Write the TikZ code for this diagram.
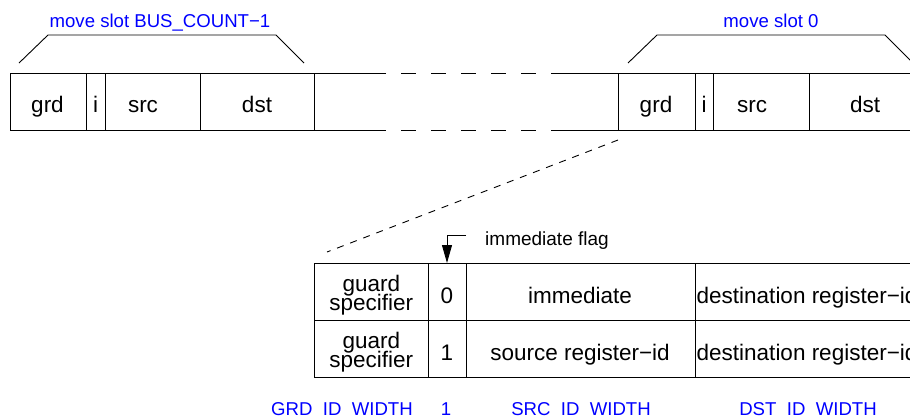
\documentclass[tikz,border=0pt]{standalone}
\usepackage{fontspec}
\setmainfont{Liberation Sans}
\usetikzlibrary{arrows.meta}
\begin{document}
\begin{tikzpicture}[x=1pt,y=-1pt,
  ln/.style={line width=0.9pt,black},
  gapdash/.style={line width=0.9pt,black,dash pattern=on 15pt off 15pt,dash phase=15pt},
  zoomdash/.style={line width=0.9pt,black,dash pattern=on 7pt off 7pt},
  big/.style={inner sep=0pt,anchor=base,font=\fontsize{22.5}{22.5}\selectfont},
  leftbig/.style={inner sep=0pt,anchor=base west,font=\fontsize{22.5}{22.5}\selectfont},
  small/.style={inner sep=0pt,anchor=base west,font=\fontsize{19}{19}\selectfont},
  bluelbl/.style={inner sep=0pt,anchor=base,text=blue,font=\fontsize{18.6}{18.6}\selectfont},
  flagtip/.style={-{Triangle[length=18pt,width=10pt]}}
  ]
\useasboundingbox (0,0) rectangle (910,416);
\clip (0,0) rectangle (910,416);

% ---------- top row: left slot ----------
\draw[ln] (386,73) -- (10,73) -- (10,130) -- (386,130);
\foreach \x in {86,105,200,314} \draw[ln] (\x,73) -- (\x,130);
% gap
\draw[gapdash] (386,73) -- (554,73);
\draw[gapdash] (386,130) -- (554,130);
% right slot
\draw[ln] (554,73) -- (930,73);
\draw[ln] (554,130) -- (930,130);
\foreach \x in {618,695,713,809} \draw[ln] (\x,73) -- (\x,130);

\node[big] (lgrd) at (47.5,112) {grd};
\node[big] (li) at (95.5,112) {i};
\node[big] (lsrc) at (143,112) {src};
\node[big] (ldst) at (257,112) {dst};
\node[big] (rgrd) at (656,112) {grd};
\node[big] (ri) at (704,112) {i};
\node[big] (rsrc) at (752,112) {src};
\node[big] (rdst) at (865,112) {dst};

% brackets
\draw[ln] (19,63) -- (48,35) -- (276,35) -- (304,63);
\draw[ln] (628,63) -- (657,35) -- (885,35) -- (913,63);
\node[bluelbl] (lslot) at (160,27) {move slot BUS\_COUNT−1};
\node[bluelbl] (rslot) at (771,27) {move slot 0};

% zoom dashed line
\coordinate (zfrom) at (618,140);
\coordinate (zto) at (327,252);
\draw[zoomdash] (zfrom) -- (zto);

% ---------- table ----------
\draw[ln] (930,263) -- (314,263) -- (314,377) -- (930,377);
\draw[ln] (314,320) -- (930,320);
\foreach \x in {428,466,695} \draw[ln] (\x,263) -- (\x,377);

\node[big] (g1a) at (371.3,291.5) {guard};
\node[big] (g1b) at (371.3,310) {specifier};
\node[big] (g2a) at (371.3,348.5) {guard};
\node[big] (g2b) at (371.3,367) {specifier};
\node[big] (f0) at (447,303.5) {0};
\node[big] (f1) at (447,360.5) {1};
\node[big] (imm) at (580,303.5) {immediate};
\node[big] (srcreg) at (580,360.5) {source register−id};
\node[leftbig] (dst1) at (696.5,303.5) {destination register−id};
\node[leftbig] (dst2) at (696.5,360.5) {destination register−id};

% immediate flag
\coordinate (flagstart) at (466,235);
\coordinate (flagbend) at (447,235);
\coordinate (flagend) at (447,263);
\draw[ln,flagtip] (flagstart) -- (flagbend) -- (flagend);
\node[small] (flag) at (485,245) {immediate flag};

% width labels
\node[bluelbl] (wg) at (342,415.5) {GRD\_ID\_WIDTH};
\node[bluelbl] (w1) at (446,415.5) {1};
\node[bluelbl] (ws) at (581,415.5) {SRC\_ID\_WIDTH};
\node[bluelbl] (wd) at (808,415.5) {DST\_ID\_WIDTH};
\end{tikzpicture}
\end{document}
